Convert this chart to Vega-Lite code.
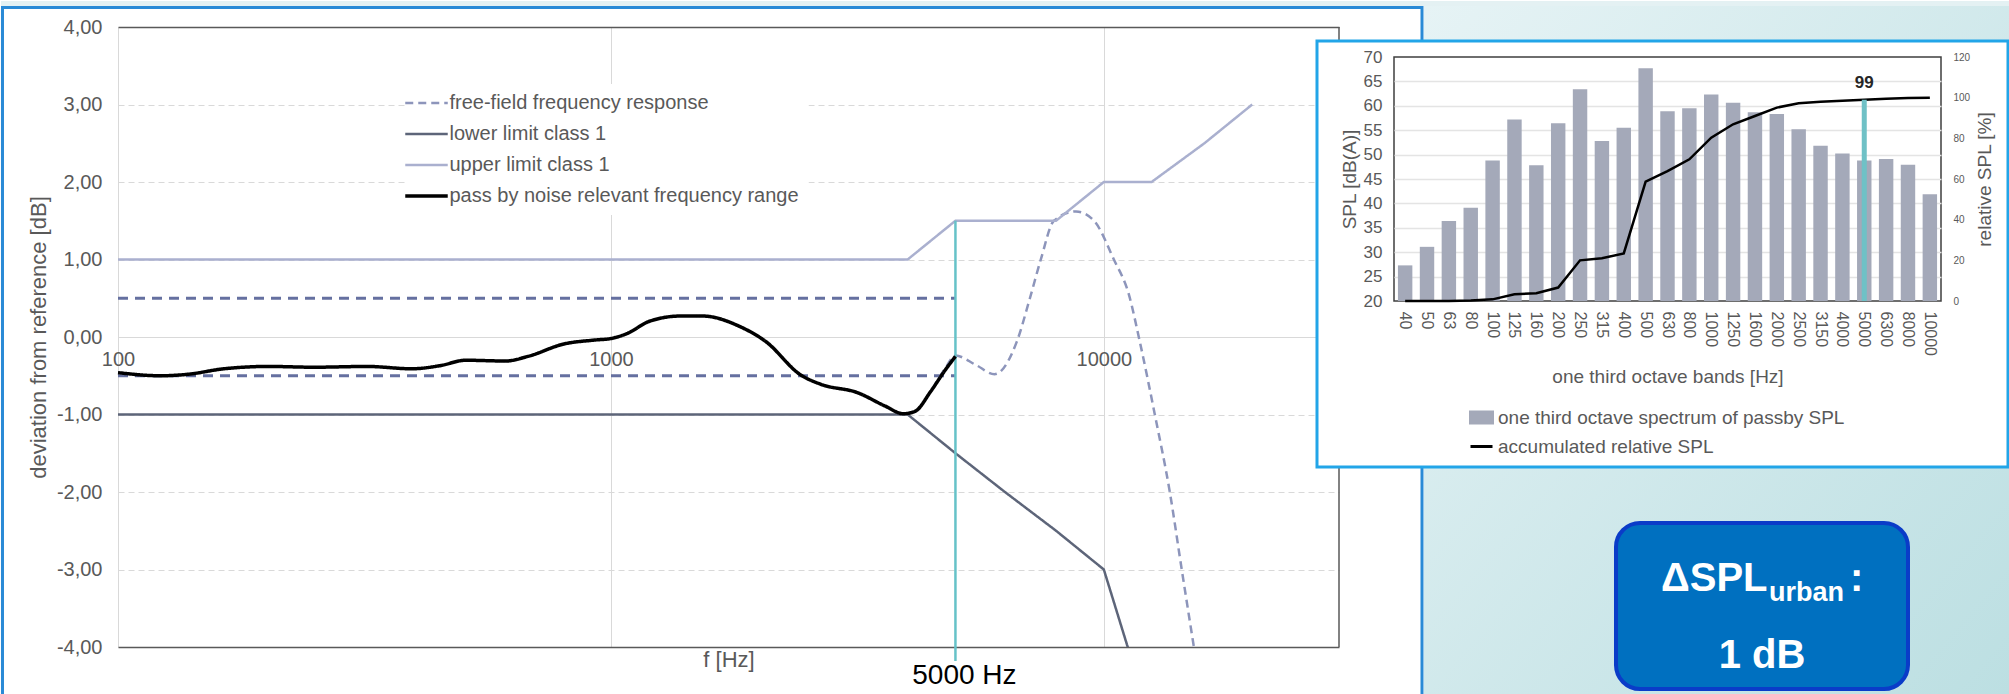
{
  "$schema": "https://vega.github.io/schema/vega-lite/v6.json",
  "background": "white",
  "padding": 0,
  "autosize": {"type": "pad"},
  "bounds": "flush",
  "spacing": 55,
  "config": {
    "font": "Liberation Sans",
    "view": {"stroke": null}
  },
  "resolve": {
    "scale": {"color": "independent", "strokeDash": "independent"},
    "legend": {"color": "independent", "strokeDash": "independent"}
  },
  "hconcat": [
    {
      "width": 1221,
      "height": 620,
      "view": {"stroke": null},
      "data": {
        "values": [
          {"series": "tol+", "freq": 100, "dev": 0.5},
          {"series": "tol+", "freq": 5000, "dev": 0.5},
          {"series": "tol-", "freq": 100, "dev": -0.5},
          {"series": "tol-", "freq": 5000, "dev": -0.5},
          {"series": "free-field frequency response", "freq": 4500, "dev": -0.66},
          {"series": "free-field frequency response", "freq": 4750, "dev": -0.42},
          {"series": "free-field frequency response", "freq": 5000, "dev": -0.24},
          {"series": "free-field frequency response", "freq": 5500, "dev": -0.36},
          {"series": "free-field frequency response", "freq": 6000, "dev": -0.48},
          {"series": "free-field frequency response", "freq": 6660, "dev": -0.06},
          {"series": "free-field frequency response", "freq": 7080, "dev": 0.5},
          {"series": "free-field frequency response", "freq": 7450, "dev": 1.0},
          {"series": "free-field frequency response", "freq": 7920, "dev": 1.5},
          {"series": "free-field frequency response", "freq": 8780, "dev": 1.62},
          {"series": "free-field frequency response", "freq": 9550, "dev": 1.5},
          {"series": "free-field frequency response", "freq": 10480, "dev": 1.0},
          {"series": "free-field frequency response", "freq": 11240, "dev": 0.55},
          {"series": "free-field frequency response", "freq": 11830, "dev": -0.06},
          {"series": "free-field frequency response", "freq": 12690, "dev": -1.0},
          {"series": "free-field frequency response", "freq": 13610, "dev": -2.0},
          {"series": "free-field frequency response", "freq": 14390, "dev": -3.0},
          {"series": "free-field frequency response", "freq": 15230, "dev": -4.0},
          {"series": "upper limit class 1", "freq": 100, "dev": 1.0},
          {"series": "upper limit class 1", "freq": 4000, "dev": 1.0},
          {"series": "upper limit class 1", "freq": 5000, "dev": 1.5},
          {"series": "upper limit class 1", "freq": 8000, "dev": 1.5},
          {"series": "upper limit class 1", "freq": 10000, "dev": 2.0},
          {"series": "upper limit class 1", "freq": 12500, "dev": 2.0},
          {"series": "upper limit class 1", "freq": 16000, "dev": 2.5},
          {"series": "upper limit class 1", "freq": 20000, "dev": 3.0},
          {"series": "lower limit class 1", "freq": 100, "dev": -1.0},
          {"series": "lower limit class 1", "freq": 4000, "dev": -1.0},
          {"series": "lower limit class 1", "freq": 5000, "dev": -1.5},
          {"series": "lower limit class 1", "freq": 6300, "dev": -2.0},
          {"series": "lower limit class 1", "freq": 8000, "dev": -2.5},
          {"series": "lower limit class 1", "freq": 10000, "dev": -3.0},
          {"series": "lower limit class 1", "freq": 12500, "dev": -5.0},
          {"series": "pass by noise relevant frequency range", "freq": 100, "dev": -0.46},
          {"series": "pass by noise relevant frequency range", "freq": 122, "dev": -0.5},
          {"series": "pass by noise relevant frequency range", "freq": 139, "dev": -0.48},
          {"series": "pass by noise relevant frequency range", "freq": 164, "dev": -0.41},
          {"series": "pass by noise relevant frequency range", "freq": 202, "dev": -0.38},
          {"series": "pass by noise relevant frequency range", "freq": 250, "dev": -0.39},
          {"series": "pass by noise relevant frequency range", "freq": 320, "dev": -0.38},
          {"series": "pass by noise relevant frequency range", "freq": 395, "dev": -0.41},
          {"series": "pass by noise relevant frequency range", "freq": 450, "dev": -0.37},
          {"series": "pass by noise relevant frequency range", "freq": 508, "dev": -0.3},
          {"series": "pass by noise relevant frequency range", "freq": 612, "dev": -0.31},
          {"series": "pass by noise relevant frequency range", "freq": 679, "dev": -0.25},
          {"series": "pass by noise relevant frequency range", "freq": 803, "dev": -0.09},
          {"series": "pass by noise relevant frequency range", "freq": 924, "dev": -0.04},
          {"series": "pass by noise relevant frequency range", "freq": 1000, "dev": -0.02},
          {"series": "pass by noise relevant frequency range", "freq": 1083, "dev": 0.05},
          {"series": "pass by noise relevant frequency range", "freq": 1194, "dev": 0.2},
          {"series": "pass by noise relevant frequency range", "freq": 1380, "dev": 0.27},
          {"series": "pass by noise relevant frequency range", "freq": 1537, "dev": 0.27},
          {"series": "pass by noise relevant frequency range", "freq": 1819, "dev": 0.14},
          {"series": "pass by noise relevant frequency range", "freq": 2063, "dev": -0.06},
          {"series": "pass by noise relevant frequency range", "freq": 2427, "dev": -0.49},
          {"series": "pass by noise relevant frequency range", "freq": 2666, "dev": -0.61},
          {"series": "pass by noise relevant frequency range", "freq": 3170, "dev": -0.72},
          {"series": "pass by noise relevant frequency range", "freq": 3597, "dev": -0.89},
          {"series": "pass by noise relevant frequency range", "freq": 3920, "dev": -0.99},
          {"series": "pass by noise relevant frequency range", "freq": 4137, "dev": -0.96},
          {"series": "pass by noise relevant frequency range", "freq": 4457, "dev": -0.7},
          {"series": "pass by noise relevant frequency range", "freq": 4750, "dev": -0.44},
          {"series": "pass by noise relevant frequency range", "freq": 5000, "dev": -0.25}
        ]
      },
      "layer": [
        {
          "transform": [{"filter": "datum.series === 'tol+' || datum.series === 'tol-'"}],
          "mark": {"type": "line", "color": "#6570a0", "strokeWidth": 2.8, "strokeDash": [10, 7]},
          "encoding": {
            "x": {
              "field": "freq", "type": "quantitative",
              "scale": {"type": "log", "domain": [100, 30000], "nice": false},
              "axis": {
                "orient": "bottom", "offset": -310, "values": [100, 1000, 10000], "format": "d",
                "labelFontSize": 20, "labelColor": "#595959", "labelPadding": 12, "labelFlush": false, "labelOverlap": false,
                "ticks": false, "domain": false, "grid": true, "gridColor": "#d9d9d9", "gridWidth": 1,
                "title": "f [Hz]", "titleFontSize": 22, "titleColor": "#595959", "titleFontWeight": "normal", "titlePadding": 280
              }
            },
            "y": {
              "field": "dev", "type": "quantitative",
              "scale": {"domain": [-4, 4], "nice": false, "zero": false},
              "axis": {
                "values": [-4, -3, -2, -1, 0, 1, 2, 3, 4],
                "labelExpr": "(datum.value < 0 ? '-' : '') + replace(format(abs(datum.value), '.2f'), '.', ',')",
                "labelFontSize": 20, "labelColor": "#595959", "labelPadding": 16, "labelFlush": false,
                "ticks": false, "domain": false, "grid": true,
                "gridColor": {"condition": {"test": "abs(datum.value) === 4", "value": "#595959"}, "value": "#d9d9d9"},
                "gridDash": {"condition": {"test": "datum.value === 0 || abs(datum.value) === 4", "value": []}, "value": [6, 4]},
                "gridWidth": {"condition": {"test": "abs(datum.value) === 4", "value": 1.5}, "value": 1.2},
                "title": "deviation from reference [dB]", "titleFontSize": 22, "titleColor": "#595959", "titleFontWeight": "normal", "titlePadding": 6
              }
            },
            "detail": {"field": "series", "type": "nominal"}
          }
        },
        {
          "transform": [{"filter": "datum.series === 'free-field frequency response'"}],
          "mark": {"type": "line", "strokeWidth": 2.5, "interpolate": "monotone", "clip": true},
          "encoding": {
            "x": {"field": "freq", "type": "quantitative"},
            "y": {"field": "dev", "type": "quantitative"},
            "color": {
              "field": "series", "type": "nominal",
              "scale": {
                "domain": ["free-field frequency response", "lower limit class 1", "upper limit class 1", "pass by noise relevant frequency range"],
                "range": ["#8d95bb", "#5d6579", "#aab0cf", "#000000"]
              },
              "legend": {
                "orient": "none", "legendX": 289.5, "legendY": 57, "title": null,
                "symbolType": "M-1,0H1", "symbolSize": 1806, "symbolStrokeWidth": 2.5,
                "labelFontSize": 20, "labelColor": "#595959", "labelLimit": 600, "labelOffset": 13,
                "fillColor": "white", "padding": 9, "rowPadding": 11,
                "encode": {"symbols": {"update": {"strokeWidth": {"signal": "datum.value === 'pass by noise relevant frequency range' ? 3.5 : 2.5"}}}}
              }
            },
            "strokeDash": {
              "field": "series", "type": "nominal",
              "scale": {
                "domain": ["free-field frequency response", "lower limit class 1", "upper limit class 1", "pass by noise relevant frequency range"],
                "range": [[8, 5], [1, 0], [1, 0], [1, 0]]
              },
              "legend": {
                "orient": "none", "legendX": 289.5, "legendY": 57, "title": null,
                "symbolType": "M-1,0H1", "symbolSize": 1806, "symbolStrokeWidth": 2.5,
                "labelFontSize": 20, "labelColor": "#595959", "labelLimit": 600, "labelOffset": 13,
                "fillColor": "white", "padding": 9, "rowPadding": 11
              }
            }
          }
        },
        {
          "transform": [{"filter": "datum.series === 'upper limit class 1'"}],
          "mark": {"type": "line", "strokeWidth": 2.5, "clip": true},
          "encoding": {
            "x": {"field": "freq", "type": "quantitative"},
            "y": {"field": "dev", "type": "quantitative"},
            "color": {"field": "series", "type": "nominal"},
            "strokeDash": {"field": "series", "type": "nominal"}
          }
        },
        {
          "transform": [{"filter": "datum.series === 'lower limit class 1'"}],
          "mark": {"type": "line", "strokeWidth": 2.5, "clip": true},
          "encoding": {
            "x": {"field": "freq", "type": "quantitative"},
            "y": {"field": "dev", "type": "quantitative"},
            "color": {"field": "series", "type": "nominal"},
            "strokeDash": {"field": "series", "type": "nominal"}
          }
        },
        {
          "data": {"values": [{}]},
          "mark": {"type": "rule", "color": "#66c2c8", "strokeWidth": 2.5},
          "encoding": {
            "x": {"datum": 5000, "type": "quantitative"},
            "y": {"datum": 1.5, "type": "quantitative"},
            "y2": {"datum": -4.18}
          }
        },
        {
          "transform": [{"filter": "datum.series === 'pass by noise relevant frequency range'"}],
          "mark": {"type": "line", "strokeWidth": 3.5, "interpolate": "monotone"},
          "encoding": {
            "x": {"field": "freq", "type": "quantitative"},
            "y": {"field": "dev", "type": "quantitative"},
            "color": {"field": "series", "type": "nominal"},
            "strokeDash": {"field": "series", "type": "nominal"}
          }
        },
        {
          "data": {"values": [{}]},
          "mark": {"type": "text", "text": "5000 Hz", "fontSize": 28, "color": "#000000", "align": "center", "baseline": "alphabetic", "dx": 9, "dy": 37},
          "encoding": {
            "x": {"datum": 5000, "type": "quantitative"},
            "y": {"datum": -4, "type": "quantitative"}
          }
        },
        {
          "data": {"values": [{}]},
          "mark": {"type": "rule", "color": "#595959", "strokeWidth": 1.5},
          "encoding": {
            "x": {"datum": 30000, "type": "quantitative"},
            "y": {"datum": -4, "type": "quantitative"},
            "y2": {"datum": 4}
          }
        }
      ]
    },
    {
      "bounds": "flush",
      "spacing": 0,
      "vconcat": [
        {
          "width": 547,
          "height": 30,
          "view": {"stroke": null},
          "data": {"values": [{}]},
          "layer": [
            {
              "mark": {"type": "rect", "fill": "#e4f1f3"},
              "encoding": {
                "x": {"datum": -2.5466, "type": "quantitative", "scale": {"domain": [0, 1], "nice": false, "zero": false}, "axis": null},
                "x2": {"datum": 1.1261},
                "y": {"datum": 1.8667, "type": "quantitative", "scale": {"domain": [0, 1], "nice": false, "zero": false}, "axis": null},
                "y2": {"datum": 1.7}
              }
            },
            {
              "mark": {"type": "rect", "fill": {"gradient": "linear", "x1": 0, "y1": 0, "x2": 1, "y2": 1, "stops": [{"offset": 0, "color": "#e6f3f5"}, {"offset": 1, "color": "#bcdfe2"}]}},
              "encoding": {
                "x": {"datum": 0.0548, "type": "quantitative"},
                "x2": {"datum": 1.1261},
                "y": {"datum": 1.7, "type": "quantitative"},
                "y2": {"datum": -21.2667}
              }
            },
            {
              "mark": {"type": "rect", "filled": false, "stroke": "#2a8ad6", "strokeWidth": 3},
              "encoding": {
                "x": {"datum": -2.5439, "type": "quantitative"},
                "x2": {"datum": 0.0512},
                "y": {"datum": 1.65, "type": "quantitative"},
                "y2": {"datum": -21.3667}
              }
            },
            {
              "mark": {"type": "rect", "fill": "white", "stroke": "#22a5e8", "strokeWidth": 3},
              "encoding": {
                "x": {"datum": -0.14077, "type": "quantitative"},
                "x2": {"datum": 1.12249},
                "y": {"datum": 0.5333, "type": "quantitative"},
                "y2": {"datum": -13.6667}
              }
            },
            {
              "mark": {"type": "rect", "fill": "#0070c0", "stroke": "#0a3cc8", "strokeWidth": 4, "cornerRadius": 24},
              "encoding": {
                "x": {"datum": 0.40585, "type": "quantitative"},
                "x2": {"datum": 0.93967},
                "y": {"datum": -15.5333, "type": "quantitative"},
                "y2": {"datum": -21.0667}
              }
            },
            {
              "mark": {"type": "text", "text": "ΔSPL", "fontSize": 40, "fontWeight": "bold", "color": "white", "align": "left", "baseline": "alphabetic"},
              "encoding": {
                "x": {"datum": 0.48812, "type": "quantitative"},
                "y": {"datum": -17.8, "type": "quantitative"}
              }
            },
            {
              "mark": {"type": "text", "text": "urban", "fontSize": 27, "fontWeight": "bold", "color": "white", "align": "left", "baseline": "alphabetic"},
              "encoding": {
                "x": {"datum": 0.68556, "type": "quantitative"},
                "y": {"datum": -18.1333, "type": "quantitative"}
              }
            },
            {
              "mark": {"type": "text", "text": ":", "fontSize": 40, "fontWeight": "bold", "color": "white", "align": "left", "baseline": "alphabetic"},
              "encoding": {
                "x": {"datum": 0.83364, "type": "quantitative"},
                "y": {"datum": -17.8, "type": "quantitative"}
              }
            },
            {
              "mark": {"type": "text", "text": "1 dB", "fontSize": 40, "fontWeight": "bold", "color": "white", "align": "center", "baseline": "alphabetic"},
              "encoding": {
                "x": {"datum": 0.67276, "type": "quantitative"},
                "y": {"datum": -20.3667, "type": "quantitative"}
              }
            }
          ]
        },
        {
          "width": 547,
          "height": 244,
          "view": {"stroke": "#3f3f3f", "strokeWidth": 1.5},
          "data": {
            "values": [
              {"band": "40", "spl": 27.3, "rel": 0.0},
              {"band": "50", "spl": 31.1, "rel": 0.0},
              {"band": "63", "spl": 36.4, "rel": 0.0},
              {"band": "80", "spl": 39.1, "rel": 0.2},
              {"band": "100", "spl": 48.8, "rel": 0.8},
              {"band": "125", "spl": 57.2, "rel": 3.3},
              {"band": "160", "spl": 47.8, "rel": 3.8},
              {"band": "200", "spl": 56.4, "rel": 6.6},
              {"band": "250", "spl": 63.4, "rel": 20.0},
              {"band": "315", "spl": 52.8, "rel": 21.0},
              {"band": "400", "spl": 55.5, "rel": 23.4},
              {"band": "500", "spl": 67.7, "rel": 58.7},
              {"band": "630", "spl": 58.9, "rel": 63.9},
              {"band": "800", "spl": 59.5, "rel": 69.7},
              {"band": "1000", "spl": 62.3, "rel": 80.3},
              {"band": "1250", "spl": 60.6, "rel": 86.9},
              {"band": "1600", "spl": 58.7, "rel": 91.0},
              {"band": "2000", "spl": 58.3, "rel": 95.1},
              {"band": "2500", "spl": 55.2, "rel": 97.2},
              {"band": "3150", "spl": 51.8, "rel": 98.0},
              {"band": "4000", "spl": 50.2, "rel": 98.5},
              {"band": "5000", "spl": 48.8, "rel": 99.0},
              {"band": "6300", "spl": 49.1, "rel": 99.5},
              {"band": "8000", "spl": 47.9, "rel": 99.8},
              {"band": "10000", "spl": 41.9, "rel": 100.0}
            ]
          },
          "resolve": {"scale": {"y": "independent"}, "axis": {"y": "independent"}},
          "layer": [
            {
              "mark": {"type": "bar"},
              "encoding": {
                "x": {
                  "field": "band", "type": "nominal", "sort": null,
                  "scale": {"paddingInner": 0.34, "paddingOuter": 0.18},
                  "axis": {
                    "title": "one third octave bands [Hz]", "labelAngle": 90, "labelFontSize": 16, "labelColor": "#595959",
                    "labelPadding": 10, "ticks": false, "domain": false,
                    "titleFontSize": 19, "titleColor": "#595959", "titleFontWeight": "normal", "titlePadding": 12
                  }
                },
                "y": {
                  "field": "spl", "type": "quantitative",
                  "scale": {"domain": [20, 70], "nice": false, "zero": false},
                  "axis": {
                    "title": "SPL [dB(A)]", "values": [20, 25, 30, 35, 40, 45, 50, 55, 60, 65, 70],
                    "labelFontSize": 17, "labelColor": "#595959", "labelPadding": 12, "ticks": false, "domain": false,
                    "grid": true, "gridColor": "#e4e4e4", "gridWidth": 1.5,
                    "gridOpacity": {"condition": {"test": "datum.value === 20 || datum.value === 70", "value": 0}, "value": 1},
                    "titleFontSize": 19, "titleColor": "#595959", "titleFontWeight": "normal", "titlePadding": 4
                  }
                },
                "y2": {"datum": 20},
                "color": {
                  "datum": "one third octave spectrum of passby SPL", "type": "nominal",
                  "scale": {"domain": ["one third octave spectrum of passby SPL", "accumulated relative SPL"], "range": ["#a4a9b9", "#000000"]},
                  "legend": {
                    "orient": "none", "legendX": 75, "legendY": 378, "title": null,
                    "labelFontSize": 19, "labelColor": "#595959", "labelLimit": 600, "labelOffset": 4,
                    "symbolSize": 484, "rowPadding": 5, "symbolOpacity": 1,
                    "encode": {
                      "symbols": {
                        "update": {
                          "shape": {"signal": "datum.value === 'accumulated relative SPL' ? 'stroke' : 'M-1,-0.5H1V0.5H-1Z'"},
                          "fill": {"signal": "datum.value === 'accumulated relative SPL' ? 'transparent' : '#a4a9b9'"},
                          "stroke": {"signal": "datum.value === 'accumulated relative SPL' ? '#000000' : 'transparent'"},
                          "strokeWidth": {"value": 3},
                          "opacity": {"value": 1}
                        }
                      }
                    }
                  }
                }
              }
            },
            {
              "layer": [
                {
                  "mark": {"type": "line", "strokeWidth": 2.5},
                  "encoding": {
                    "x": {"field": "band", "type": "nominal", "sort": null},
                    "y": {
                      "field": "rel", "type": "quantitative",
                      "scale": {"domain": [0, 120], "nice": false},
                      "axis": {
                        "orient": "right", "title": "relative SPL [%]", "values": [0, 20, 40, 60, 80, 100, 120],
                        "labelFontSize": 10, "labelColor": "#595959", "labelPadding": 12, "ticks": false, "domain": false, "grid": false,
                        "titleFontSize": 19, "titleColor": "#595959", "titleFontWeight": "normal", "titleAngle": 270, "titleBaseline": "top", "titlePadding": 6
                      }
                    },
                    "color": {"datum": "accumulated relative SPL", "type": "nominal"}
                  }
                },
                {
                  "transform": [{"filter": "datum.band === '5000'"}],
                  "mark": {"type": "rule", "color": "#6fc1c6", "strokeWidth": 5},
                  "encoding": {
                    "x": {"field": "band", "type": "nominal", "sort": null},
                    "y": {"field": "rel", "type": "quantitative"},
                    "y2": {"datum": 0}
                  }
                },
                {
                  "transform": [{"filter": "datum.band === '5000'"}],
                  "mark": {"type": "text", "fontSize": 17, "fontWeight": "bold", "color": "#262626", "baseline": "bottom", "dy": -8},
                  "encoding": {
                    "x": {"field": "band", "type": "nominal", "sort": null},
                    "y": {"field": "rel", "type": "quantitative"},
                    "text": {"field": "rel", "type": "quantitative", "format": ".0f"}
                  }
                }
              ]
            }
          ]
        }
      ]
    }
  ]
}
